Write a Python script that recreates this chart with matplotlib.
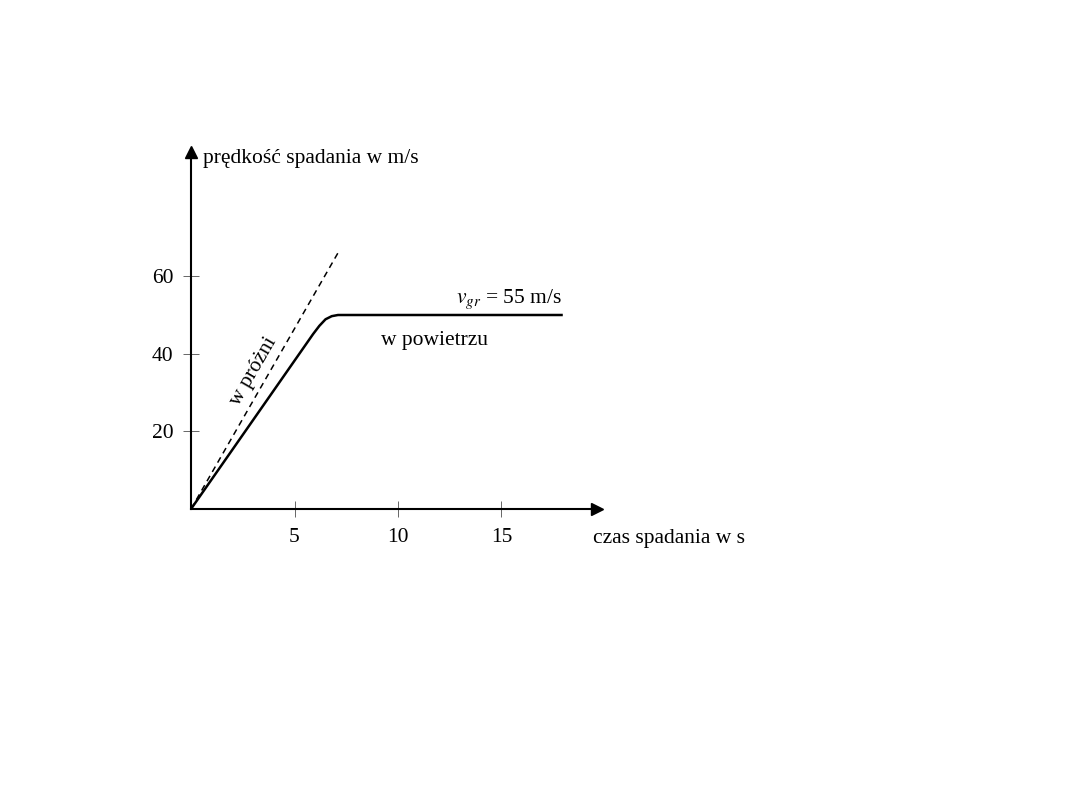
import matplotlib
matplotlib.use("Agg")
import matplotlib.pyplot as plt

plt.rcParams['font.family'] = ['Liberation Serif', 'DejaVu Serif']

# data
x_ticks = [5, 10, 15]
y_ticks = [20, 40, 60]
vacuum_t = [0, 7.1]
vacuum_v = [0, 66]
air_t = [0, 5.9, 6.2, 6.5, 6.8, 7.1, 17.9]
air_v = [0, 45.1, 47.2, 48.9, 49.7, 50, 50]

FS = 15.5
fig = plt.figure(figsize=(10.8, 8.1), dpi=100)
ax = fig.add_axes([191/1080, (810-509)/810, 406/1080, 357/810])
ax.set_xlim(0, 406/20.7)
ax.set_ylim(0, 357/3.88)

for s in ['top', 'right']:
    ax.spines[s].set_visible(False)
for s in ['left', 'bottom']:
    ax.spines[s].set_linewidth(1.5)
    ax.spines[s].set_color('black')

ax.set_xticks(x_ticks)
ax.set_yticks(y_ticks)
ax.set_xticklabels([str(v) for v in x_ticks])
ax.set_yticklabels([str(v) for v in y_ticks])
ax.tick_params(axis='x', direction='inout', length=11, width=0.7, color='#666666',
               labelsize=FS, pad=8)
ax.tick_params(axis='y', direction='inout', length=11, width=0.7, color='#666666',
               labelsize=FS, pad=7)

# arrow heads
ax.plot([1], [0], marker='>', markersize=8, color='black', transform=ax.transAxes,
        clip_on=False)
ax.plot([0], [1], marker='^', markersize=8, color='black', transform=ax.transAxes,
        clip_on=False)

ax.plot(vacuum_t, vacuum_v, color='black', linestyle=(0, (4, 3)), linewidth=1.1)
ax.plot(air_t, air_v, color='black', linewidth=1.8, solid_joinstyle='round')

ax.text(3.05, 35.5, 'w próżni', rotation=60, fontsize=FS, ha='center', va='center',
        rotation_mode='anchor')
ax.text(17.9, 53.1, r'$v_{gr}$ = 55 m/s', fontsize=FS, ha='right', va='baseline',
        math_fontfamily='stix')
ax.text(9.2, 43.5, 'w powietrzu', fontsize=FS, ha='left', va='center')

fig.text(203/1080, 1 - 159/810, 'prędkość spadania w m/s', fontsize=FS,
         ha='left', va='center')
fig.text(593/1080, 1 - 539/810, 'czas spadania w s', fontsize=FS,
         ha='left', va='center')

fig.savefig('out.png', dpi=100)
